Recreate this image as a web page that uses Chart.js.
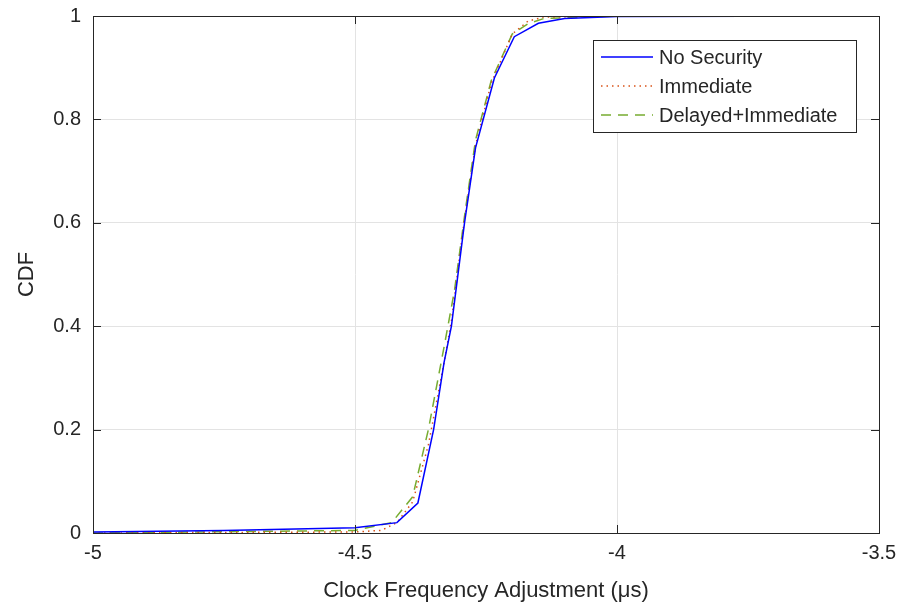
<!DOCTYPE html>
<html>
<head>
<meta charset="utf-8">
<script src="https://cdn.jsdelivr.net/npm/chart.js@4"></script>
<style>
  html, body { margin: 0; padding: 0; background: #fff; }
  #wrap { width: 901px; height: 608px; }
</style>
</head>
<body>
<div id="wrap"><canvas id="myChart" width="901" height="608"></canvas></div>
<script>
// CDF curves
const noSecX = [-5, -4.75, -4.5, -4.42, -4.38, -4.35, -4.33, -4.316, -4.291, -4.27, -4.234, -4.196, -4.15, -4.1, -4.0, -3.5];
const noSecY = [0.002, 0.005, 0.01, 0.02, 0.058, 0.2, 0.33, 0.4, 0.6, 0.745, 0.88, 0.96, 0.986, 0.995, 0.999, 1];

const immX = [-5, -4.5, -4.45, -4.42, -4.39, -4.36, -4.33, -4.316, -4.292, -4.27, -4.24, -4.2, -4.17, -4.14, -4.0, -3.5];
const immY = [0, 0.002, 0.005, 0.02, 0.06, 0.17, 0.33, 0.41, 0.6, 0.75, 0.87, 0.965, 0.99, 0.998, 1, 1];

const delX = [-5, -4.5, -4.43, -4.39, -4.36, -4.33, -4.31, -4.29, -4.27, -4.24, -4.2, -4.17, -4.14, -4.0, -3.5];
const delY = [0, 0.005, 0.02, 0.07, 0.2, 0.36, 0.47, 0.62, 0.76, 0.875, 0.965, 0.985, 0.995, 1, 1];

const xTicks = [-5, -4.5, -4, -3.5];
const yTicks = [0, 0.2, 0.4, 0.6, 0.8, 1];

const labels = ["No Security", "Immediate", "Delayed+Immediate"];

function toPoints(xs, ys) {
    return xs.map((x, i) => ({ x: x, y: ys[i] }));
}

const FONT = "'Liberation Sans', Arial, sans-serif";
const TXT = "#262626";

const datasets = [
    {
        label: labels[0],
        data: toPoints(noSecX, noSecY),
        borderColor: "#0000ff",
        borderWidth: 1.5,
        pointRadius: 0,
        tension: 0
    },
    {
        label: labels[1],
        data: toPoints(immX, immY),
        borderColor: "#d95319",
        borderWidth: 1.5,
        borderDash: [1.5, 4],
        pointRadius: 0,
        tension: 0
    },
    {
        label: labels[2],
        data: toPoints(delX, delY),
        borderColor: "#77ac30",
        borderWidth: 1.5,
        borderDash: [10, 7],
        pointRadius: 0,
        tension: 0
    }
];

// box, inward ticks and legend like the matlab figure
const boxPlugin = {
    id: "boxPlugin",
    afterDatasetsDraw(chart) {
        const ctx = chart.ctx;
        const a = chart.chartArea;
        const xs = chart.scales.x, ys = chart.scales.y;
        ctx.save();
        ctx.strokeStyle = "#262626";
        ctx.lineWidth = 1;
        ctx.strokeRect(a.left + 0.5, a.top + 0.5, a.right - a.left, a.bottom - a.top);
        ctx.beginPath();
        xTicks.forEach((t) => {
            const px = Math.round(xs.getPixelForValue(t)) + 0.5;
            ctx.moveTo(px, a.bottom); ctx.lineTo(px, a.bottom - 8);
            ctx.moveTo(px, a.top); ctx.lineTo(px, a.top + 8);
        });
        yTicks.forEach((t) => {
            const py = Math.round(ys.getPixelForValue(t)) + 0.5;
            ctx.moveTo(a.left, py); ctx.lineTo(a.left + 8, py);
            ctx.moveTo(a.right, py); ctx.lineTo(a.right - 8, py);
        });
        ctx.stroke();

        // legend
        const bx = 593, by = 40, bw = 263, bh = 92;
        ctx.fillStyle = "#fff";
        ctx.fillRect(bx, by, bw, bh);
        ctx.strokeStyle = "#262626";
        ctx.strokeRect(bx + 0.5, by + 0.5, bw, bh);
        ctx.font = "20px " + FONT;
        ctx.textBaseline = "middle";
        chart.data.datasets.forEach((ds, i) => {
            const yy = by + 17 + i * 29;
            ctx.beginPath();
            ctx.strokeStyle = ds.borderColor;
            ctx.lineWidth = ds.borderWidth;
            ctx.setLineDash(ds.borderDash || []);
            ctx.moveTo(601, yy); ctx.lineTo(653, yy);
            ctx.stroke();
            ctx.setLineDash([]);
            ctx.fillStyle = TXT;
            ctx.fillText(ds.label, 659, yy + 1);
        });
        ctx.restore();
    }
};

const config = {
    type: "line",
    data: { datasets },
    options: {
        responsive: false,
        animation: false,
        layout: { padding: { top: 16, right: 22, left: 0, bottom: 0 } },
        plugins: { legend: { display: false }, tooltip: { enabled: false } },
        scales: {
            x: {
                type: "linear",
                min: -5, max: -3.5,
                afterBuildTicks: (s) => { s.ticks = xTicks.map((v) => ({ value: v })); },
                afterFit: (s) => { s.height = 75; s.paddingLeft = 0; s.paddingRight = 0; },
                grid: { color: "#e3e3e3", drawTicks: false },
                border: { display: false },
                ticks: {
                    color: TXT, font: { family: FONT, size: 20 }, padding: 8,
                    callback: (v) => String(v)
                },
                title: {
                    display: true, text: "Clock Frequency Adjustment (\u03bcs)",
                    color: TXT, font: { family: FONT, size: 22 }, padding: { top: 6 }
                }
            },
            y: {
                type: "linear",
                min: 0, max: 1,
                afterBuildTicks: (s) => { s.ticks = yTicks.map((v) => ({ value: v })); },
                afterFit: (s) => { s.width = 93; s.paddingTop = 0; s.paddingBottom = 0; },
                grid: { color: "#e3e3e3", drawTicks: false },
                border: { display: false },
                ticks: {
                    color: TXT, font: { family: FONT, size: 20 }, padding: 12,
                    callback: (v) => String(v)
                },
                title: {
                    display: true, text: "CDF",
                    color: TXT, font: { family: FONT, size: 22 }, padding: { top: 14, bottom: 0 }
                }
            }
        }
    },
    plugins: [boxPlugin]
};

const myChart = document.getElementById("myChart");
new Chart(myChart, config);
</script>
</body>
</html>
